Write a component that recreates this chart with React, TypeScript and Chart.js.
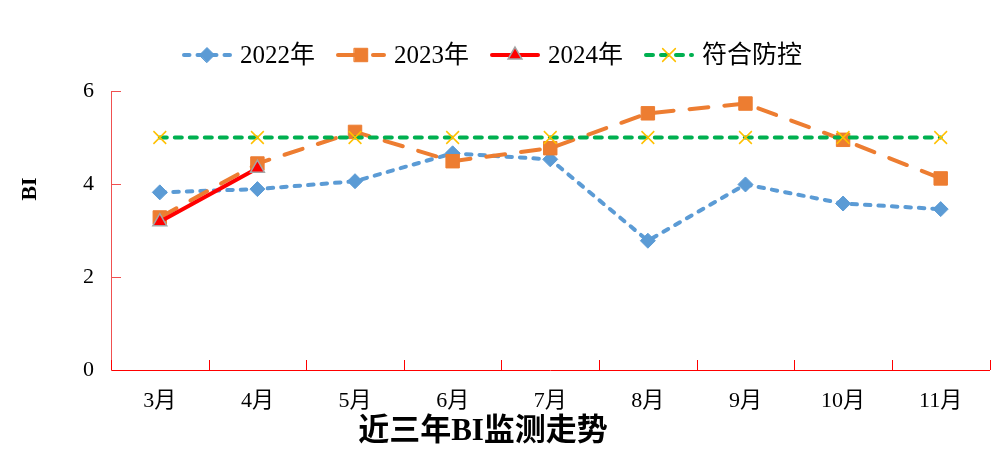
import React, { useEffect, useRef } from 'react';
import { Chart, registerables } from 'chart.js';
import { drawPoint } from 'chart.js/helpers';

Chart.register(...registerables);

const categories = ['3月', '4月', '5月', '6月', '7月', '8月', '9月', '10月', '11月'];
const bi2022 = [3.82, 3.89, 4.06, 4.66, 4.53, 2.78, 3.99, 3.58, 3.46];
const bi2023 = [3.28, 4.44, 5.12, 4.49, 4.77, 5.52, 5.73, 4.95, 4.12];
const bi2024 = [3.19, 4.34];
const standard = [5, 5, 5, 5, 5, 5, 5, 5, 5];
const yTicks = [0, 2, 4, 6];
const seriesNames = ['2022年', '2023年', '2024年', '符合防控'];
const chartTitle = '近三年BI监测走势';
const yTitle = 'BI';

const FONT = "'Liberation Serif', 'Times New Roman', 'Noto Sans CJK SC', serif";

type SeriesStyle = {
  color: string;
  dash: number[];
  cap: CanvasLineCap;
  width: number;
  pointStyle: string;
  radius: number;
  pointFill: string;
  pointBorder: string;
  pointBorderWidth: number;
};

const styles: SeriesStyle[] = [
  { color: '#5B9BD5', dash: [5.5, 8], cap: 'round', width: 4, pointStyle: 'rectRot', radius: 7.5, pointFill: '#5B9BD5', pointBorder: '#5B9BD5', pointBorderWidth: 1 },
  { color: '#ED7D31', dash: [19, 16], cap: 'round', width: 4, pointStyle: 'rect', radius: 9.5, pointFill: '#ED7D31', pointBorder: '#ED7D31', pointBorderWidth: 1 },
  { color: '#FF0000', dash: [], cap: 'round', width: 4, pointStyle: 'triangle', radius: 8, pointFill: '#FF0000', pointBorder: '#A5A5A5', pointBorderWidth: 1.5 },
  { color: '#00B050', dash: [7, 8], cap: 'round', width: 4, pointStyle: 'crossRot', radius: 9, pointFill: '#FFC000', pointBorder: '#FFC000', pointBorderWidth: 1.5 },
];

const seriesData = [bi2022, bi2023, bi2024, standard];
const drawOrder = [3, 2, 1, 0];

const decorPlugin = {
  id: 'decor',
  beforeDatasetsDraw(chart: any) {
    const { ctx, chartArea } = chart;
    const xs = chart.scales.x;
    const ys = chart.scales.y;
    ctx.save();
    ctx.lineWidth = 1;
    ctx.setLineDash([]);
    ctx.strokeStyle = '#F05050';
    ctx.beginPath();
    yTicks.forEach((v) => {
      if (v === 0) return;
      const y = Math.round(ys.getPixelForValue(v)) + 0.5;
      ctx.moveTo(chartArea.left, y);
      ctx.lineTo(chartArea.left + 10, y);
    });
    ctx.stroke();
    ctx.strokeStyle = '#FF0000';
    ctx.beginPath();
    for (let i = 0; i <= categories.length; i++) {
      const x = Math.round(xs.getPixelForValue(i - 0.5)) + 0.5;
      ctx.moveTo(x, chartArea.bottom);
      ctx.lineTo(x, chartArea.bottom - 10);
    }
    ctx.stroke();
    ctx.restore();
  },
  afterDraw(chart: any) {
    const { ctx } = chart;
    ctx.save();
    // legend
    ctx.font = `25px ${FONT}`;
    ctx.textBaseline = 'middle';
    ctx.textAlign = 'left';
    const lineW = 50;
    const gap = 8;
    const spacing = 21;
    const widths = seriesNames.map((n) => ctx.measureText(n).width);
    const total = widths.reduce((a, w) => a + lineW + gap + w, 0) + spacing * (seriesNames.length - 1);
    let x = 484 - total / 2;
    const ly = 47;
    seriesNames.forEach((name, i) => {
      const s = styles[i];
      ctx.strokeStyle = s.color;
      ctx.lineWidth = s.width;
      ctx.lineCap = s.cap;
      ctx.setLineDash(s.dash);
      ctx.beginPath();
      ctx.moveTo(x + 2, ly);
      ctx.lineTo(x + lineW - 2, ly);
      ctx.stroke();
      ctx.setLineDash([]);
      ctx.fillStyle = s.pointFill;
      ctx.strokeStyle = s.pointBorder;
      ctx.lineWidth = s.pointBorderWidth;
      drawPoint(ctx, { pointStyle: s.pointStyle as any, radius: s.radius, rotation: 0, borderWidth: s.pointBorderWidth }, x + lineW / 2, ly);
      ctx.fillStyle = '#000';
      ctx.fillText(name, x + lineW + gap, ly + 1);
      x += lineW + gap + widths[i] + spacing;
    });
    // x title
    ctx.fillStyle = '#000';
    ctx.textAlign = 'center';
    ctx.font = `bold 31px ${FONT}`;
    ctx.fillText(chartTitle, 475, 424);
    // y title
    ctx.font = `bold 22px ${FONT}`;
    ctx.translate(22, 181);
    ctx.rotate(-Math.PI / 2);
    ctx.fillText(yTitle, 0, 0);
    ctx.restore();
  },
};

export default function App() {
  const ref = useRef<HTMLCanvasElement | null>(null);
  useEffect(() => {
    if (!ref.current) return;
    const chart = new Chart(ref.current, {
      type: 'line',
      data: {
        labels: categories,
        datasets: seriesData.map((d, i) => {
          const s = styles[i];
          return {
            label: seriesNames[i],
            data: d,
            order: drawOrder[i],
            borderColor: s.color,
            borderWidth: s.width,
            borderDash: s.dash,
            borderCapStyle: s.cap,
            borderJoinStyle: 'round',
            fill: false,
            tension: 0,
            pointStyle: s.pointStyle,
            pointRadius: s.radius,
            pointHoverRadius: s.radius,
            pointBackgroundColor: s.pointFill,
            pointBorderColor: s.pointBorder,
            pointBorderWidth: s.pointBorderWidth,
          } as any;
        }),
      },
      options: {
        animation: false,
        responsive: true,
        maintainAspectRatio: false,
        layout: { padding: { top: 83, left: 0, right: 1, bottom: 0 } },
        plugins: {
          legend: { display: false },
          tooltip: { enabled: false },
          title: { display: false },
        },
        scales: {
          x: {
            type: 'category',
            offset: true,
            grid: { display: false, drawTicks: false },
            border: { display: true, color: '#FF0000', width: 1 },
            ticks: { color: '#000', font: { family: FONT, size: 22 }, padding: 18, maxRotation: 0, autoSkip: false },
            afterFit: (s: any) => { s.height = 82; },
          },
          y: {
            min: 0,
            max: 6,
            grid: { display: false, drawTicks: false },
            border: { display: true, color: '#F05050', width: 1 },
            ticks: { stepSize: 2, color: '#000', font: { family: FONT, size: 22 }, padding: 17 },
            afterFit: (s: any) => { s.width = 103; },
          },
        },
      },
      plugins: [decorPlugin],
    });
    return () => chart.destroy();
  }, []);
  return (
    <div style={{ width: '992px', height: '444px', position: 'relative' }}>
      <canvas ref={ref} />
    </div>
  );
}
